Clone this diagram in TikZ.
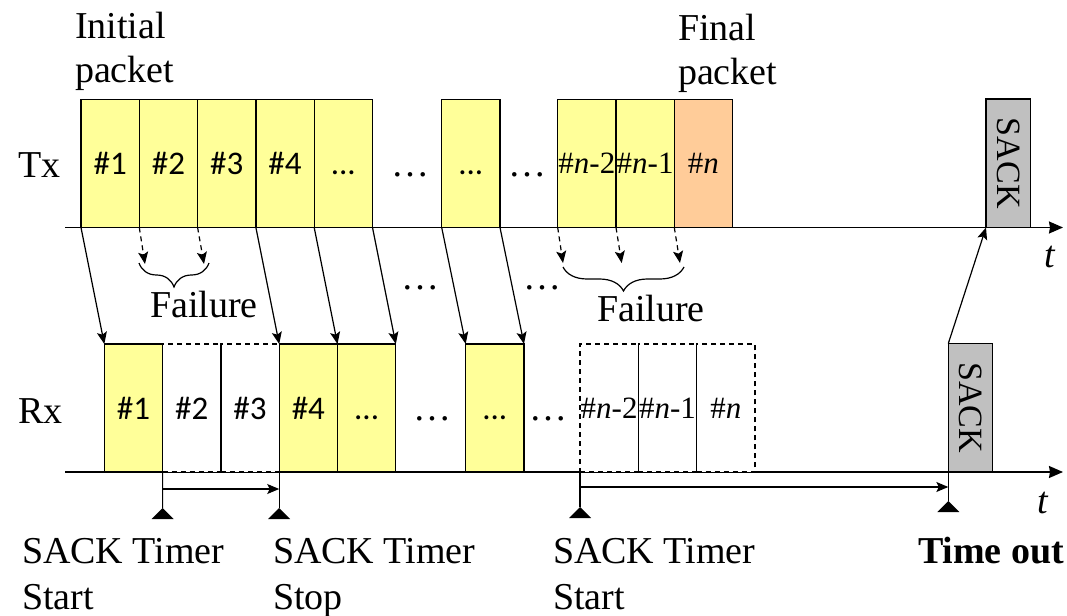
\documentclass[tikz,border=0pt]{standalone}
\usepackage{fontspec}
\setmainfont{Liberation Serif}
\newfontfamily\boxfont{Carlito}
\usetikzlibrary{arrows.meta,decorations.pathreplacing}

\definecolor{pktyellow}{HTML}{FFFF99}
\definecolor{pktorange}{HTML}{FFCC99}
\definecolor{ackgray}{HTML}{C0C0C0}

% dots inside a packet box, sitting on the same baseline as the numbers
\newcommand{\pktdots}{\vphantom{\#1}...}

\begin{document}
\begin{tikzpicture}[x=1bp,y=-1bp,
  txt/.style={font=\fontsize{38bp}{46bp}\selectfont, inner sep=0pt, outer sep=0pt},
  pkt/.style={draw, line width=1.2bp, minimum width=58.3bp, minimum height=128bp,
    anchor=south west, inner sep=0pt, outer sep=0pt,
    font=\fontsize{33bp}{36bp}\boxfont},
  serifpkt/.style={pkt, font=\fontsize{31bp}{36bp}\selectfont},
  lostpkt/.style={pkt, fill=white, dash pattern=on 5bp off 4bp},
  ack/.style={draw, line width=1.2bp, fill=ackgray, minimum width=44.5bp, minimum height=128.5bp,
    anchor=south west, inner sep=0pt, outer sep=0pt},
  acktext/.style={rotate=-90, font=\fontsize{34bp}{36bp}\selectfont},
  arr/.style={line width=1.2bp, -{Stealth[length=12bp,width=10bp,inset=2.5bp]}},
  lostarr/.style={arr, dash pattern=on 5bp off 4bp},
  axis/.style={line width=1.5bp, -{Stealth[length=14bp,width=12bp,inset=1bp]}},
  brc/.style={line width=1.2bp, decorate, decoration={brace, mirror, amplitude=24bp}},
  timerline/.style={line width=1.2bp},
  timermark/.style={fill=black},
  dots/.style={font=\fontsize{38bp}{40bp}\selectfont, inner sep=0pt, anchor=base}
]
\useasboundingbox (0,0) rectangle (1067,616);

% time axes
\coordinate (txa) at (65,227.5);
\coordinate (txb) at (1063,227.5);
\coordinate (rxa) at (65,472);
\coordinate (rxb) at (1063,472);
\draw[axis] (txa) -- (txb);
\draw[axis] (rxa) -- (rxb);
\node[txt, anchor=base] (tt) at (1050,268) {\textit{t}};
\node[txt, anchor=base] (rt) at (1043,513) {\textit{t}};

% row labels (multi-line nodes are anchored at their last baseline)
\node[txt, anchor=base west] (txlabel) at (18,178) {Tx};
\node[txt, anchor=base west] (rxlabel) at (18,423) {Rx};
\node[txt, anchor=base west, align=left, font=\fontsize{38bp}{44bp}\selectfont] (initial) at (75,83) {Initial\\packet};
\node[txt, anchor=base west, align=left, font=\fontsize{38bp}{44bp}\selectfont] (final) at (678,85) {Final\\packet};

% transmitted packets
\node[pkt, fill=pktyellow] (t1) at (81,227.5) {\#1};
\node[pkt, fill=pktyellow] (t2) at (139.3,227.5) {\#2};
\node[pkt, fill=pktyellow] (t3) at (197.6,227.5) {\#3};
\node[pkt, fill=pktyellow] (t4) at (255.9,227.5) {\#4};
\node[pkt, fill=pktyellow] (t5) at (314.2,227.5) {\pktdots};
\node[pkt, fill=pktyellow] (t6) at (441.7,227.5) {\pktdots};
\node[serifpkt, fill=pktyellow] (tn2) at (557.7,227.5) {\#\textit{n}-2};
\node[serifpkt, fill=pktyellow] (tn1) at (616,227.5) {\#\textit{n}-1};
\node[serifpkt, fill=pktorange] (tn) at (674.3,227.5) {\#\textit{n}};
\node[dots] (txd1) at (410,177) {…};
\node[dots] (txd2) at (527,177) {…};
\node[ack] (tack) at (986,227.5) {};
\node[acktext] at (tack.center) {SACK};

% received packets
\node[lostpkt] (r2) at (162.6,472) {\#2};
\node[lostpkt] (r3) at (220.9,472) {\#3};
\draw[timerline] (r3.north west) -- (r3.south west);
\node[pkt, fill=pktyellow] (r1) at (104.3,472) {\#1};
\node[pkt, fill=pktyellow] (r4) at (279.2,472) {\#4};
\node[pkt, fill=pktyellow] (r5) at (337.5,472) {\pktdots};
\node[pkt, fill=pktyellow] (r6) at (465.7,472) {\pktdots};
\node[lostpkt, font=\fontsize{31bp}{36bp}\selectfont] (rn2) at (580,472) {\#\textit{n}-2};
\node[lostpkt, font=\fontsize{31bp}{36bp}\selectfont] (rn1) at (638.3,472) {\#\textit{n}-1};
\node[lostpkt, font=\fontsize{31bp}{36bp}\selectfont] (rn) at (696.6,472) {\#\textit{n}};
\draw[timerline] (rn1.north west) -- (rn1.south west);
\draw[timerline] (rn.north west) -- (rn.south west);
\node[dots] (rxd1) at (432,420) {…};
\node[dots] (rxd2) at (548,420) {…};
\node[ack] (rack) at (948.3,472) {};
\node[acktext] at (rack.center) {SACK};

% transmissions between the rows
\coordinate (f1) at (145,264);
\coordinate (f2) at (204,264);
\coordinate (f3) at (563,263);
\coordinate (f4) at (621.7,263);
\coordinate (f5) at (680,263);
\draw[arr] (t1.south west) -- (r1.north west);
\draw[lostarr] (t2.south west) -- (f1);
\draw[lostarr] (t3.south west) -- (f2);
\draw[arr] (t4.south west) -- (r4.north west);
\draw[arr] (t5.south west) -- (r5.north west);
\draw[arr] (t5.south east) -- (r5.north east);
\draw[arr] (t6.south west) -- (r6.north west);
\draw[arr] (t6.south east) -- (r6.north east);
\draw[lostarr] (tn2.south west) -- (f3);
\draw[lostarr] (tn1.south west) -- (f4);
\draw[lostarr] (tn.south west) -- (f5);
\draw[arr] (rack.north west) -- (tack.south west);
\node[dots] (md1) at (420,290) {…};
\node[dots] (md2) at (542,290) {…};

% failure braces
\coordinate (b1a) at (139,263);
\coordinate (b1b) at (209,263);
\coordinate (b2a) at (563,267);
\coordinate (b2b) at (684,267);
\draw[brc] (b1a) -- (b1b);
\draw[brc] (b2a) -- (b2b);
\node[txt, anchor=base] (fail1) at (204,318) {Failure};
\node[txt, anchor=base] (fail2) at (651,321) {Failure};

% SACK timer
\coordinate (m1) at (162.6,508);
\coordinate (m2) at (279.2,508);
\coordinate (m3) at (580,507);
\coordinate (m4) at (948.3,501);
\draw[timerline] (r1.south east) -- (m1);
\draw[timerline] (r4.south west) -- (m2);
\draw[timerline] (rn2.south west) -- (m3);
\draw[timerline] (rack.south west) -- (m4);
\foreach \m in {m1,m2,m3,m4}
  \fill[timermark] (\m) -- ++(11,11) -- ++(-22,0) -- cycle;
\draw[arr] (r1.south east |- 0,489) -- (r4.south west |- 0,489);
\draw[arr] (rn2.south west |- 0,487) -- (rack.south west |- 0,487);

% timer labels
\node[txt, anchor=base west, align=left] (start1) at (22,609) {SACK Timer\\Start};
\node[txt, anchor=base west, align=left] (stop) at (273,609) {SACK Timer\\Stop};
\node[txt, anchor=base west, align=left] (start2) at (553,609) {SACK Timer\\Start};
\node[txt, anchor=base west, font=\fontsize{38bp}{46bp}\bfseries] (timeout) at (918,563) {Time out};
\end{tikzpicture}
\end{document}
